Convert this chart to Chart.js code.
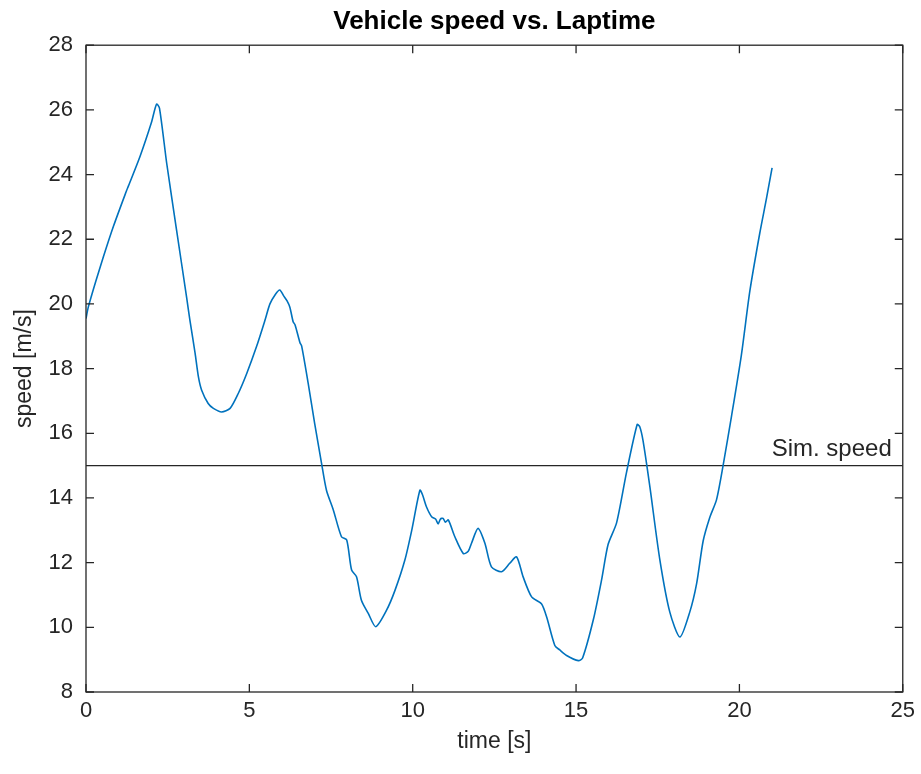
<!DOCTYPE html>
<html>
<head>
<meta charset="utf-8">
<title>Vehicle speed vs. Laptime</title>
<script src="https://cdn.jsdelivr.net/npm/chart.js@4.4.1/dist/chart.umd.min.js"></script>
<style>
    html, body { margin: 0; padding: 0; background: #ffffff; }
    #wrap { width: 921px; height: 774px; }
</style>
</head>
<body>
<div id="wrap"><canvas id="speedChart" width="921" height="774"></canvas></div>
<script>
// logged lap: time [s] and vehicle speed [m/s]
const timeS = [
    0.00, 0.07, 0.30, 0.53, 0.84, 1.24, 1.30, 1.65, 2.00, 2.16,
    2.25, 2.47, 2.77, 3.08, 3.18, 3.34, 3.44, 3.54, 3.74, 3.90,
    4.15, 4.41, 4.66, 4.92, 5.22, 5.48, 5.63, 5.80, 5.93, 6.05,
    6.15, 6.24, 6.34, 6.40, 6.55, 6.60, 6.80, 7.00, 7.21, 7.36,
    7.57, 7.82, 7.98, 8.13, 8.28, 8.43, 8.64, 8.87, 9.20, 9.46,
    9.76, 9.97, 10.22, 10.30, 10.42, 10.58, 10.70, 10.78, 10.85, 10.93,
    11.00, 11.09, 11.29, 11.55, 11.70, 11.80, 12.00, 12.21, 12.41, 12.72,
    12.97, 13.18, 13.38, 13.64, 13.94, 14.10, 14.35, 14.50, 14.71, 15.07,
    15.20, 15.53, 15.78, 15.98, 16.24, 16.54, 16.87, 16.95, 17.05, 17.26,
    17.56, 17.87, 18.18, 18.48, 18.69, 18.89, 19.09, 19.30, 19.50, 19.76,
    20.06, 20.32, 20.62, 20.83, 21.00
];
const speedMS = [
    19.55, 19.90, 20.70, 21.45, 22.40, 23.50, 23.65, 24.55, 25.60, 26.18,
    26.05, 24.35, 22.30, 20.20, 19.50, 18.47, 17.75, 17.33, 16.92, 16.77,
    16.66, 16.77, 17.23, 17.85, 18.68, 19.50, 20.00, 20.30, 20.43, 20.25,
    20.10, 19.90, 19.45, 19.35, 18.80, 18.70, 17.55, 16.30, 15.07, 14.24,
    13.63, 12.80, 12.70, 11.77, 11.56, 10.84, 10.43, 10.02, 10.53, 11.15,
    12.08, 13.00, 14.24, 14.10, 13.73, 13.42, 13.35, 13.20, 13.35, 13.37,
    13.25, 13.32, 12.80, 12.28, 12.35, 12.60, 13.06, 12.60, 11.87, 11.72,
    11.98, 12.18, 11.56, 10.94, 10.73, 10.32, 9.44, 9.30, 9.13, 8.97,
    9.05, 10.24, 11.46, 12.56, 13.23, 14.77, 16.27, 16.20, 15.77, 14.34,
    12.12, 10.47, 9.70, 10.47, 11.35, 12.67, 13.39, 13.95, 15.00, 16.54,
    18.42, 20.40, 22.17, 23.27, 24.21
];

// reference line
const simSpeed = 15;
const simLabel = 'Sim. speed';

const xTicks = [0, 5, 10, 15, 20, 25];
const yTicks = [8, 10, 12, 14, 16, 18, 20, 22, 24, 26, 28];

const axisColor = '#262626';
const lineColor = '#0072BD';
const fontFamily = 'Arial, "Liberation Sans", Helvetica, sans-serif';

// box around the axes with inward ticks on all four sides, plus the reference line label
const axesBox = {
    id: 'axesBox',
    afterDatasetsDraw(chart) {
        const ctx = chart.ctx;
        const area = chart.chartArea;
        const xs = chart.scales.x;
        const ys = chart.scales.y;
        const tick = 8;

        ctx.save();
        ctx.strokeStyle = axisColor;
        ctx.lineWidth = 1.3;
        ctx.strokeRect(area.left, area.top, area.right - area.left, area.bottom - area.top);

        ctx.beginPath();
        xTicks.forEach(function (v) {
            const px = xs.getPixelForValue(v);
            ctx.moveTo(px, area.bottom);
            ctx.lineTo(px, area.bottom - tick);
            ctx.moveTo(px, area.top);
            ctx.lineTo(px, area.top + tick);
        });
        yTicks.forEach(function (v) {
            const py = ys.getPixelForValue(v);
            ctx.moveTo(area.left, py);
            ctx.lineTo(area.left + tick, py);
            ctx.moveTo(area.right, py);
            ctx.lineTo(area.right - tick, py);
        });
        ctx.stroke();

        // label sits just above the line, right aligned
        ctx.fillStyle = axisColor;
        ctx.font = '24px ' + fontFamily;
        ctx.textAlign = 'right';
        ctx.textBaseline = 'bottom';
        ctx.fillText(simLabel, area.right - 11, ys.getPixelForValue(simSpeed) - 4);
        ctx.restore();
    }
};

const speedPoints = timeS.map(function (t, i) {
    return { x: t, y: speedMS[i] };
});

new Chart(document.getElementById('speedChart'), {
    type: 'line',
    data: {
        datasets: [
            {
                label: 'speed',
                data: speedPoints,
                borderColor: lineColor,
                borderWidth: 1.6,
                pointRadius: 0,
                tension: 0.25,
                fill: false
            },
            {
                label: simLabel,
                data: [{ x: 0, y: simSpeed }, { x: 25, y: simSpeed }],
                borderColor: axisColor,
                borderWidth: 1.2,
                pointRadius: 0,
                fill: false
            }
        ]
    },
    options: {
        responsive: false,
        animation: false,
        events: [],
        layout: {
            padding: { left: 0, right: 18, top: 0, bottom: 0 }
        },
        plugins: {
            legend: { display: false },
            tooltip: { enabled: false },
            title: {
                display: true,
                fullSize: false,
                text: 'Vehicle speed vs. Laptime',
                color: '#000000',
                font: { family: fontFamily, size: 26, weight: 'bold', lineHeight: 1.2 },
                padding: { top: 6, bottom: 8 }
            }
        },
        scales: {
            x: {
                type: 'linear',
                min: 0,
                max: 25,
                afterFit: function (scale) { scale.height = 82; },
                afterBuildTicks: function (scale) {
                    scale.ticks = xTicks.map(function (v) { return { value: v }; });
                },
                grid: { display: false, drawTicks: false },
                border: { display: false },
                ticks: {
                    color: axisColor,
                    padding: 6,
                    maxRotation: 0,
                    font: { family: fontFamily, size: 22 }
                },
                title: {
                    display: true,
                    text: 'time [s]',
                    color: axisColor,
                    font: { family: fontFamily, size: 23, lineHeight: 1.2 },
                    padding: { top: 0, bottom: 19 }
                }
            },
            y: {
                type: 'linear',
                min: 8,
                max: 28,
                afterFit: function (scale) { scale.width = 86; },
                afterBuildTicks: function (scale) {
                    scale.ticks = yTicks.map(function (v) { return { value: v }; });
                },
                grid: { display: false, drawTicks: false },
                border: { display: false },
                ticks: {
                    color: axisColor,
                    padding: 13,
                    font: { family: fontFamily, size: 22 }
                },
                title: {
                    display: true,
                    text: 'speed [m/s]',
                    color: axisColor,
                    font: { family: fontFamily, size: 23, lineHeight: 1.2 },
                    padding: { top: 11, bottom: 0 }
                }
            }
        }
    },
    plugins: [axesBox]
});
</script>
</body>
</html>
